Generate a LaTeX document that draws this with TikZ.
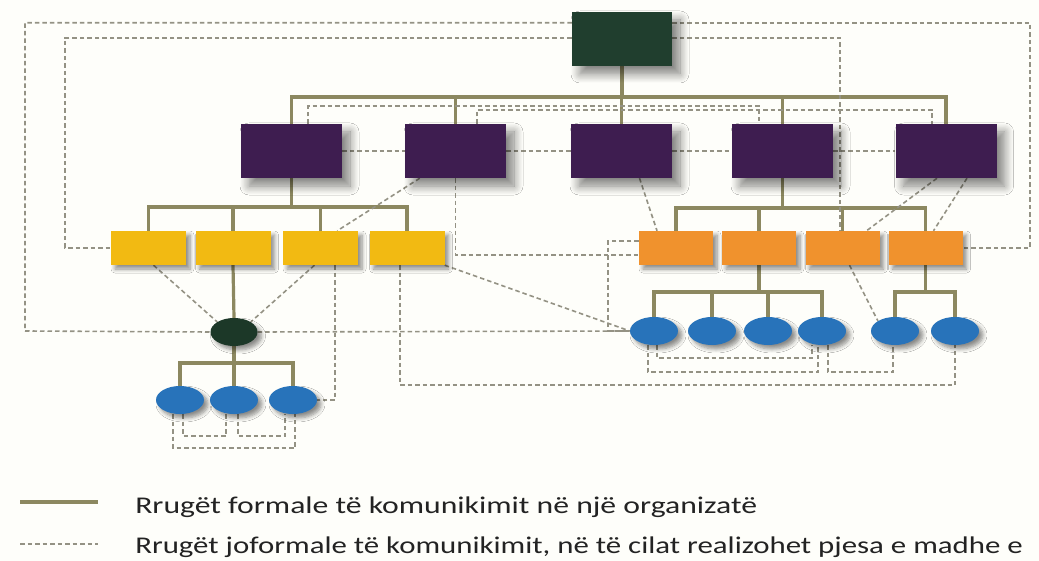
\documentclass[tikz,border=0pt]{standalone}
\usepackage{fontspec}
\setmainfont{Carlito}
\usetikzlibrary{shadows.blur,calc,backgrounds,shapes.geometric}
\definecolor{bgc}{RGB}{254,254,250}
\definecolor{topc}{RGB}{32,62,46}
\definecolor{purp}{RGB}{62,29,80}
\definecolor{yell}{RGB}{242,186,18}
\definecolor{oran}{RGB}{240,146,45}
\definecolor{bluec}{RGB}{40,115,186}
\definecolor{darkell}{RGB}{28,56,40}
\definecolor{formalc}{RGB}{140,136,96}
\definecolor{dashc}{RGB}{148,146,132}
\definecolor{txtc}{RGB}{35,35,35}
\begin{document}
\begin{tikzpicture}[x=1pt,y=-1pt,
  formal/.style={draw=formalc,line width=3.2pt},
  informal/.style={draw=dashc,line width=1.6pt,dash pattern=on 4.5pt off 3pt},
  bigshadow/.style={blur shadow={shadow xshift=8pt,shadow yshift=-8pt,shadow blur steps=10,shadow blur radius=9pt,shadow opacity=50}},
  smallshadow/.style={blur shadow={shadow xshift=4pt,shadow yshift=-4pt,shadow blur steps=6,shadow blur radius=4pt,shadow opacity=45}},
  headbox/.style={rectangle,fill=topc,minimum width=100pt,minimum height=54pt,inner sep=0pt,bigshadow},
  mgrbox/.style={rectangle,fill=purp,minimum width=101pt,minimum height=54pt,inner sep=0pt,bigshadow},
  ybox/.style={rectangle,fill=yell,minimum width=75pt,minimum height=34pt,inner sep=0pt,smallshadow},
  obox/.style={rectangle,fill=oran,minimum width=74pt,minimum height=34pt,inner sep=0pt,smallshadow},
  worker/.style={ellipse,fill=bluec,minimum width=48pt,minimum height=28pt,inner sep=0pt,smallshadow},
  lead/.style={ellipse,fill=darkell,minimum width=47pt,minimum height=28pt,inner sep=0pt,smallshadow},
  legend/.style={anchor=base west,inner sep=0pt,text=txtc,font=\fontsize{24pt}{28pt}\selectfont}
]
\useasboundingbox (0,0) rectangle (1039,561);

% top of the hierarchy
\node[headbox] (top) at (622,39) {};

% second level
\node[mgrbox] (P1) at (291.5,151) {};
\node[mgrbox] (P2) at (455.5,151) {};
\node[mgrbox] (P3) at (621.5,151) {};
\node[mgrbox] (P4) at (782.5,151) {};
\node[mgrbox] (P5) at (946,151) {};

% third level, left group
\node[ybox] (Y1) at (148.5,248) {};
\node[ybox] (Y2) at (233,248) {};
\node[ybox] (Y3) at (320.5,248) {};
\node[ybox] (Y4) at (407,248) {};

% third level, right group
\node[obox] (O1) at (676,248) {};
\node[obox] (O2) at (759,248) {};
\node[obox] (O3) at (842.5,248) {};
\node[obox] (O4) at (925.5,248) {};

% team leader and left workers
\node[lead] (E) at (234,332) {};
\node[worker] (L1) at (180,400) {};
\node[worker] (L2) at (234,400) {};
\node[worker] (L3) at (293,400) {};

% right workers
\node[worker] (R1) at (654,331) {};
\node[worker] (R2) at (712,331) {};
\node[worker] (R3) at (768,331) {};
\node[worker] (R4) at (822,331) {};
\node[worker] (R5) at (895,331) {};
\node[worker] (R6) at (955,331) {};

% bus junctions of the formal lines
\coordinate (busT) at (622,97);
\coordinate (busA) at (291.5,207);
\coordinate (busB) at (782.5,208);
\coordinate (busE) at (234,363);
\coordinate (busO2) at (759,292);
\coordinate (busO4) at (925.5,292);

\begin{scope}[on background layer]
\fill[bgc] (0,0) rectangle (1039,561);
% formal channels
\draw[formal] (top.south) -- (busT);
\draw[formal] (P1.north) |- (busT) -| (P5.north);
\foreach \n in {P2,P3,P4} \draw[formal] (\n.north) -- (\n.north |- busT);
\draw[formal] (P1.south) -- (busA);
\draw[formal] (Y1.north) |- (busA) -| (Y4.north);
\foreach \n in {Y2,Y3} \draw[formal] (\n.north) -- (\n.north |- busA);
\draw[formal] (P4.south) -- (busB);
\draw[formal] (O1.north) |- (busB) -| (O4.north);
\foreach \n in {O2,O3} \draw[formal] (\n.north) -- (\n.north |- busB);
\draw[formal] (Y2.south) -- (E.north);
\draw[formal] (E.south) -- (busE);
\draw[formal] (L1.north) |- (busE) -| (L3.north);
\draw[formal] (L2.north) -- (busE);
\draw[formal] (O2.south) -- (busO2);
\draw[formal] (R1.north) |- (busO2) -| (R4.north);
\foreach \n in {R2,R3} \draw[formal] (\n.north) -- (\n.north |- busO2);
\draw[formal] (O4.south) -- (busO4);
\draw[formal] (R5.north) |- (busO4) -| (R6.north);

% informal channels: outer loops
\draw[informal] ([yshift=-11pt]top.north west) -| (25,331) -- (E.west);
\draw[informal] ([yshift=-11pt]top.north east) -| (1030,248) -- (O4.east);
\draw[informal] ([yshift=-26pt]top.north west) -| (65,248) -- (Y1.west);
\draw[informal] ([yshift=-26pt]top.north east) -| ([xshift=-2.5pt]O3.north);

% between second-level boxes
\draw[informal] (P1.east) -- (P2.west);
\draw[informal] (P2.east) -- (P3.west);
\draw[informal] (P3.east) -- (P4.west);
\draw[informal] (P4.east) -- (P5.west);
\draw[informal] ([xshift=16.5pt]P1.north) -- ++(0,-18) -| ([xshift=-23.5pt]P4.north);
\draw[informal] ([xshift=21.5pt]P2.north) -- ++(0,-14) -| ([xshift=-14pt]P5.north);

% second level to third level
\draw[informal] ([xshift=15pt]P2.south west) -- ([xshift=-21pt]Y3.north east);
\draw[informal] (P2.south) |- ([yshift=-7pt]O1.west);
\draw[informal] ([xshift=18pt]P3.south) -- ([xshift=-19pt]O1.north);
\draw[informal] ([xshift=-9pt]P5.south) -- ([xshift=24pt]O3.north);
\draw[informal] ([xshift=21pt]P5.south) -- ([xshift=8pt]O4.north);

% third level to workers
\draw[informal] ([yshift=7pt]O1.west) -| (608,331) -- (R1.west);
\draw[informal] (Y4.south east) -- (R1.west);
\draw[informal] (E.east) -- (R1.west);
\draw[informal] ([xshift=-7pt]Y4.south) -- ++(0,120) -| (R6.south);
\draw[informal] ([xshift=5pt]Y1.south) -- (E.north west);
\draw[informal] ([xshift=-6pt]Y3.south) -- (E.north east);
\draw[informal] ([xshift=14.5pt]Y3.south) |- (L3.east);
\draw[informal] ([xshift=7pt]O3.south) -- (R5.north west);

% among workers
\draw[informal] ([xshift=3pt]L1.south) -- ++(0,22) -| ([xshift=-8pt]L2.south);
\draw[informal] ([xshift=4pt]L2.south) -- ++(0,22) -| ([xshift=-8pt]L3.south);
\draw[informal] ([xshift=-7pt]L1.south) -- ++(0,34) -| ([xshift=2pt]L3.south);
\draw[informal] ([xshift=3pt]R1.south) -- ++(0,13) -| ([xshift=-10pt]R4.south);
\draw[informal] ([xshift=-6pt]R1.south) -- ++(0,27) -| ([xshift=-4pt]R4.south);
\draw[informal] ([xshift=6pt]R4.south) -- ++(0,27) -| ([xshift=-2pt]R5.south);
\end{scope}

% legend
\coordinate (fs) at (20,502);
\coordinate (fe) at (98,502);
\coordinate (is) at (20,544);
\coordinate (ie) at (98,544);
\draw[formal] (fs) -- (fe);
\draw[informal] (is) -- (ie);
\node[legend,xscale=1.32] (lf) at (135,513) {Rrugët formale të komunikimit në një organizatë};
\node[legend,xscale=1.285] (li) at (135,553) {Rrugët joformale të komunikimit, në të cilat realizohet pjesa e madhe e};
\end{tikzpicture}
\end{document}
